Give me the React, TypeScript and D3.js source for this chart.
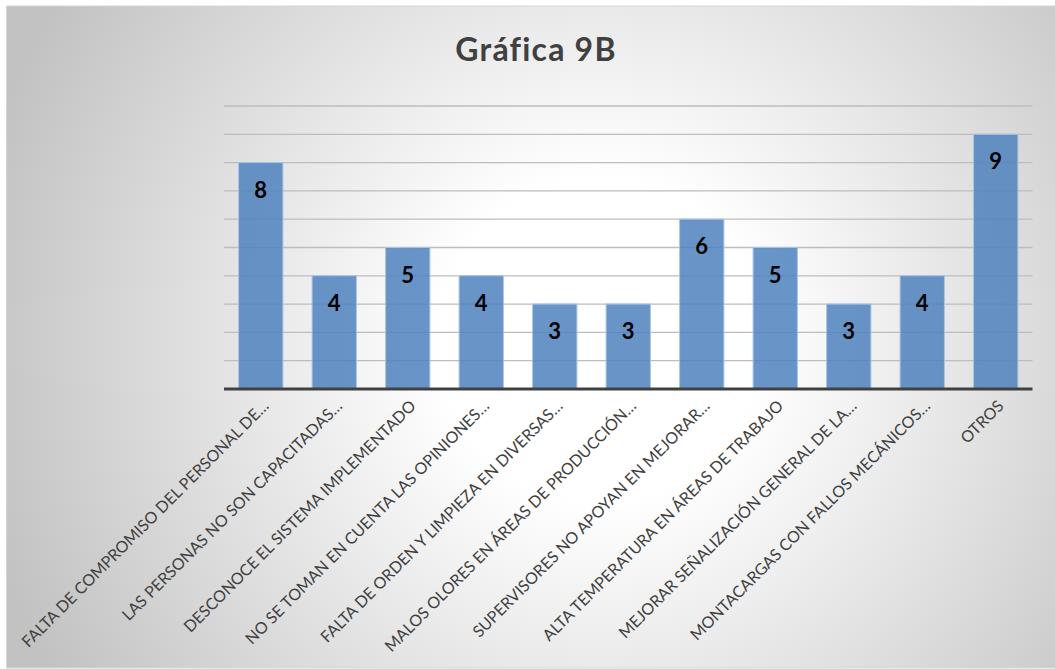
import React from "react";
import * as d3 from "d3";

const categories: string[] = [
  "FALTA DE COMPROMISO DEL PERSONAL DE…",
  "LAS PERSONAS NO SON CAPACITADAS…",
  "DESCONOCE EL SISTEMA IMPLEMENTADO",
  "NO SE TOMAN EN CUENTA LAS OPINIONES…",
  "FALTA DE ORDEN Y LIMPIEZA EN DIVERSAS…",
  "MALOS OLORES EN ÁREAS DE PRODUCCIÓN…",
  "SUPERVISORES NO APOYAN EN MEJORAR…",
  "ALTA TEMPERATURA EN ÁREAS DE TRABAJO",
  "MEJORAR SEÑALIZACIÓN GENERAL DE LA…",
  "MONTACARGAS CON FALLOS MECÁNICOS…",
  "OTROS",
];
const values: number[] = [8, 4, 5, 4, 3, 3, 6, 5, 3, 4, 9];
const gridTicks: number[] = [1, 2, 3, 4, 5, 6, 7, 8, 9, 10];
const title = "Gráfica 9B";

const W = 1055;
const H = 669;
const plot = { left: 224, right: 1032.5, top: 106, bottom: 389 };

export default function App() {
  const x = d3
    .scaleBand<number>()
    .domain(categories.map((_, i) => i))
    .range([plot.left, plot.right])
    .paddingInner(0.397)
    .paddingOuter(0.1985);
  const y = d3.scaleLinear().domain([0, 10]).range([plot.bottom, plot.top]);
  const font = "Lato, 'Open Sans', sans-serif";

  return (
    <svg
      width={W}
      height={H}
      style={{ position: "absolute", left: 0, top: 0, display: "block" }}
    >
      <defs>
        <radialGradient
          id="bg"
          gradientUnits="userSpaceOnUse"
          cx={600}
          cy={340}
          r={640}
        >
          <stop offset="0" stopColor="#ffffff" />
          <stop offset="0.25" stopColor="#ffffff" />
          <stop offset="1" stopColor="#c2c2c2" />
        </radialGradient>
      </defs>
      <rect x={0} y={0} width={W} height={H} fill="#ffffff" />
      <rect
        x={6.5}
        y={6}
        width={W}
        height={662}
        fill="url(#bg)"
        stroke="#d6d6d6"
        strokeWidth={1}
      />
      <text
        x={536}
        y={61}
        textAnchor="middle"
        fontFamily={font}
        fontWeight={700}
        fontSize={32}
        letterSpacing={1.2}
        fill="#404040"
      >
        {title}
      </text>
      {gridTicks.map((t) => (
        <line
          key={t}
          x1={plot.left}
          x2={plot.right}
          y1={y(t)}
          y2={y(t)}
          stroke="#bdbdbd"
          strokeWidth={1.3}
        />
      ))}
      {values.map((v, i) => (
        <rect
          key={i}
          x={x(i)!}
          y={y(v)}
          width={x.bandwidth()}
          height={y(0) - y(v)}
          fill="#4f81bd"
          fillOpacity={0.85}
          stroke="#a9c4e6"
          strokeWidth={1}
        />
      ))}
      <line
        x1={plot.left}
        x2={plot.right}
        y1={y(0)}
        y2={y(0)}
        stroke="#404040"
        strokeWidth={3}
      />
      {values.map((v, i) => (
        <text
          key={i}
          x={x(i)! + x.bandwidth() / 2}
          y={y(v) + 35}
          textAnchor="middle"
          fontFamily={font}
          fontWeight={700}
          fontSize={22}
          fill="#000000"
        >
          {v}
        </text>
      ))}
      {categories.map((c, i) => {
        const cx = x(i)! + x.bandwidth() / 2 + 9;
        const cy = 407;
        return (
          <text
            key={i}
            transform={`translate(${cx},${cy}) rotate(-45)`}
            textAnchor="end"
            fontFamily={font}
            fontSize={16}
            fill="#404040"
          >
            {c}
          </text>
        );
      })}
    </svg>
  );
}
